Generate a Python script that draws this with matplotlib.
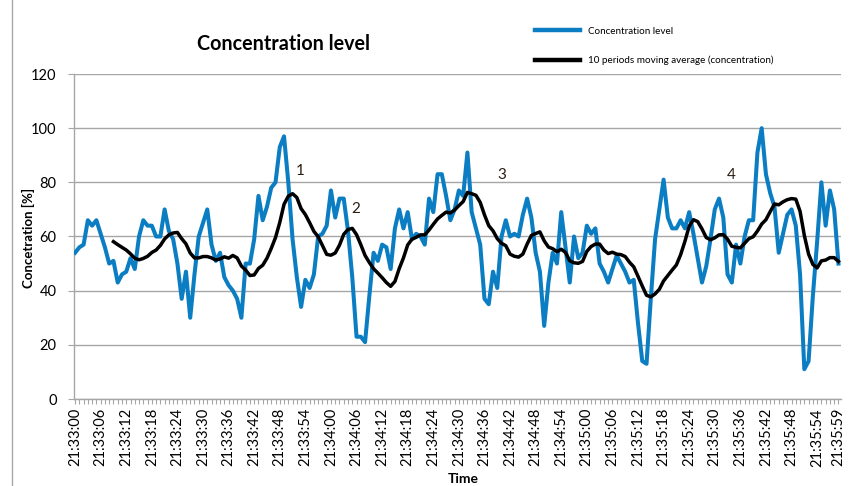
import matplotlib
matplotlib.use("Agg")
import matplotlib.pyplot as plt
from matplotlib.lines import Line2D
import numpy as np
import pandas as pd

plt.rcParams['font.family'] = ['Lato', 'DejaVu Sans']

# Concentration level, one value per second from 21:33:00 to 21:35:59
concentration = [
    54, 56, 57, 66, 64, 66, 61, 56, 50, 51,
    43, 46, 47, 52, 48, 60, 66, 64, 64, 60,
    60, 70, 62, 59, 50, 37, 47, 30, 46, 60,
    65, 70, 57, 51, 54, 45, 42, 40, 37, 30,
    50, 50, 59, 75, 66, 71, 78, 80, 93, 97,
    80, 59, 45, 34, 44, 41, 46, 60, 61, 64,
    77, 67, 74, 74, 62, 45, 23, 23, 21, 38,
    54, 51, 57, 56, 48, 63, 70, 63, 69, 59,
    61, 60, 57, 74, 69, 83, 83, 75, 66, 70,
    77, 75, 91, 69, 63, 57, 37, 35, 47, 41,
    60, 66, 60, 61, 60, 68, 74, 67, 54, 47,
    27, 43, 54, 50, 69, 56, 43, 60, 52, 54,
    64, 61, 63, 50, 47, 43, 48, 53, 50, 47,
    43, 44, 28, 14, 13, 37, 59, 70, 81, 67,
    63, 63, 66, 63, 69, 61, 52, 43, 49, 59,
    70, 74, 67, 46, 43, 57, 50, 60, 66, 66,
    91, 100, 83, 76, 71, 54, 61, 68, 70, 64,
    46, 11, 14, 38, 58, 80, 64, 77, 70, 50,
]

tick_positions = [0, 6, 12, 18, 24, 30, 36, 42, 48, 54, 60, 66, 72, 78, 84,
                  90, 96, 102, 108, 114, 120, 126, 132, 138, 144, 150, 156,
                  162, 168, 174, 179]
tick_labels = ["21:33:00", "21:33:06", "21:33:12", "21:33:18", "21:33:24",
               "21:33:30", "21:33:36", "21:33:42", "21:33:48", "21:33:54",
               "21:34:00", "21:34:06", "21:34:12", "21:34:18", "21:34:24",
               "21:34:30", "21:34:36", "21:34:42", "21:34:48", "21:34:54",
               "21:35:00", "21:35:06", "21:35:12", "21:35:18", "21:35:24",
               "21:35:30", "21:35:36", "21:35:42", "21:35:48", "21:35:54",
               "21:35:59"]

annot_labels = ["1", "2", "3", "4"]
annot_x = [52.8, 65.7, 100.1, 153.8]
annot_y = [84.2, 70.2, 82.7, 82.7]

period = 10

BLUE = '#0b7dc3'
GRID = '#a6a6a6'

x = np.arange(len(concentration))
moving_avg = pd.Series(concentration).rolling(period).mean()

fig = plt.figure(figsize=(8.62, 4.86), dpi=100)
ax = fig.add_axes([74/862, 1-399/486, (841-74)/862, (399-74)/486])

ax.plot(x, concentration, color=BLUE, lw=2.9, solid_joinstyle='round',
        label='Concentration level', zorder=3)
ax.plot(x, moving_avg, color='black', lw=2.5, solid_joinstyle='round',
        label='10 periods moving average (concentration)', zorder=4)

ax.set_xlim(-0.25, 179.6)
ax.set_ylim(0, 120)
ax.set_yticks(np.arange(0, 121, 20))
ax.yaxis.grid(True, color=GRID, lw=1.0)
ax.set_axisbelow(True)

ax.set_xticks(tick_positions)
ax.set_xticklabels(tick_labels, rotation=90, fontsize=10.5)
ax.set_xticks(x, minor=True)
ax.tick_params(axis='x', which='both', length=3.5, width=0.8, color=GRID,
               direction='out', pad=3)
ax.tick_params(axis='y', length=4.5, width=0.8, color=GRID, labelsize=10.5, pad=8)

for s in ['top', 'right']:
    ax.spines[s].set_visible(False)
for s in ['left', 'bottom']:
    ax.spines[s].set_color(GRID)
    ax.spines[s].set_linewidth(1.0)

for t, xa, ya in zip(annot_labels, annot_x, annot_y):
    ax.text(xa, ya, t, fontsize=11, color='#2b1d12', ha='center', va='center')

fig.text(197/862, 1-44/486, 'Concentration level', fontsize=14.2,
         fontweight='bold', ha='left', va='center')

fig.text(28/862, 1-238/486, 'Concetration [%]', fontsize=9.5, fontweight='bold',
         rotation=90, ha='center', va='center')

fig.text(463/862, 1-473/486, 'Time', fontsize=10, fontweight='bold',
         ha='center', va='top')

# thin frame line at the left
fig.add_artist(Line2D([12.5/862, 12.5/862], [0, 1], color=GRID, lw=1.0))

handles = [Line2D([], [], color=BLUE, lw=3.2),
           Line2D([], [], color='black', lw=3.2)]
fig.legend(handles, ['Concentration level',
                     '10 periods moving average (concentration)'],
           loc='upper left', bbox_to_anchor=(527/862, 1-19/486),
           frameon=False, fontsize=7.1, handlelength=4.6, handletextpad=0.8,
           labelspacing=2.0, borderpad=0.3)

fig.savefig('out.png', dpi=100)
